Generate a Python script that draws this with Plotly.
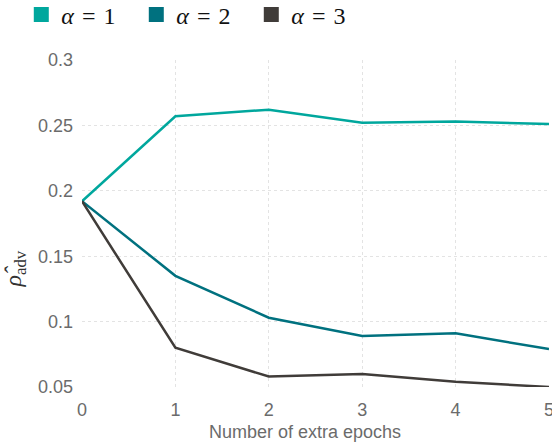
import plotly.graph_objects as go

epochs = [0, 1, 2, 3, 4, 5]
rho_alpha1 = [0.192, 0.257, 0.262, 0.252, 0.253, 0.251]
rho_alpha2 = [0.192, 0.135, 0.103, 0.089, 0.091, 0.079]
rho_alpha3 = [0.192, 0.080, 0.058, 0.060, 0.054, 0.050]
series_names = ["<i>α</i>\u2004=\u20041", "<i>α</i>\u2004=\u20042", "<i>α</i>\u2004=\u20043"]
colors = ["#00a79d", "#00717f", "#403c39"]
y_ticks = [0.05, 0.1, 0.15, 0.2, 0.25, 0.3]
y_ticktext = ["0.05", "0.1", "0.15", "0.2", "0.25", "0.3"]

fig = go.Figure()
for ys, name, c in zip([rho_alpha1, rho_alpha2, rho_alpha3], series_names, colors):
    fig.add_trace(go.Scatter(x=epochs, y=ys, mode="lines", name=name,
                             line=dict(color=c, width=2.5), showlegend=False))
# square legend swatches
for name, c in zip(series_names, colors):
    fig.add_trace(go.Scatter(x=[None], y=[None], mode="markers", name=name,
                             marker=dict(symbol="square", size=15, color=c)))

grid = "#e3e3e3"
tick_color = "#6b6b6b"
fig.update_layout(
    width=552, height=446,
    margin=dict(l=82, r=3, t=60, b=59, autoexpand=False),
    paper_bgcolor="white", plot_bgcolor="white",
    font=dict(family="Liberation Sans, Arial, sans-serif", color=tick_color, size=18),
    legend=dict(orientation="h", x=-0.13, y=1.138, xanchor="left", yanchor="middle",
                font=dict(family="Liberation Serif, serif", size=24, color="#111111"),
                entrywidth=70, entrywidthmode="pixels", itemwidth=30,
                tracegroupgap=0, bgcolor="rgba(0,0,0,0)"),
    xaxis=dict(range=[0, 5], tickvals=epochs, showgrid=True, gridcolor=grid,
               griddash="dot", gridwidth=1, zeroline=False, showline=False,
               ticks="", ticklabelstandoff=10, ticklabeloverflow="allow",
               tickfont=dict(size=18, color=tick_color)),
    yaxis=dict(range=[0.05, 0.3], tickvals=y_ticks, ticktext=y_ticktext,
               showgrid=True, gridcolor=grid, griddash="dot", gridwidth=1,
               zeroline=False, showline=False, ticks="", ticklabelstandoff=8,
               tickfont=dict(size=18, color=tick_color)),
)
# axis titles as annotations for exact placement
fig.add_annotation(text="Number of extra epochs", xref="paper", yref="paper",
                   x=0.478, y=-0.138, xanchor="center", yanchor="middle",
                   showarrow=False, font=dict(size=18, color=tick_color))
fig.add_annotation(text="<i>ρ̂</i><sub>adv</sub>", xref="paper", yref="paper",
                   x=-0.143, y=0.36, xanchor="center", yanchor="middle",
                   textangle=-90, showarrow=False,
                   font=dict(family="Liberation Serif, serif", size=24, color="#333333"))
fig.write_html("out.html")
